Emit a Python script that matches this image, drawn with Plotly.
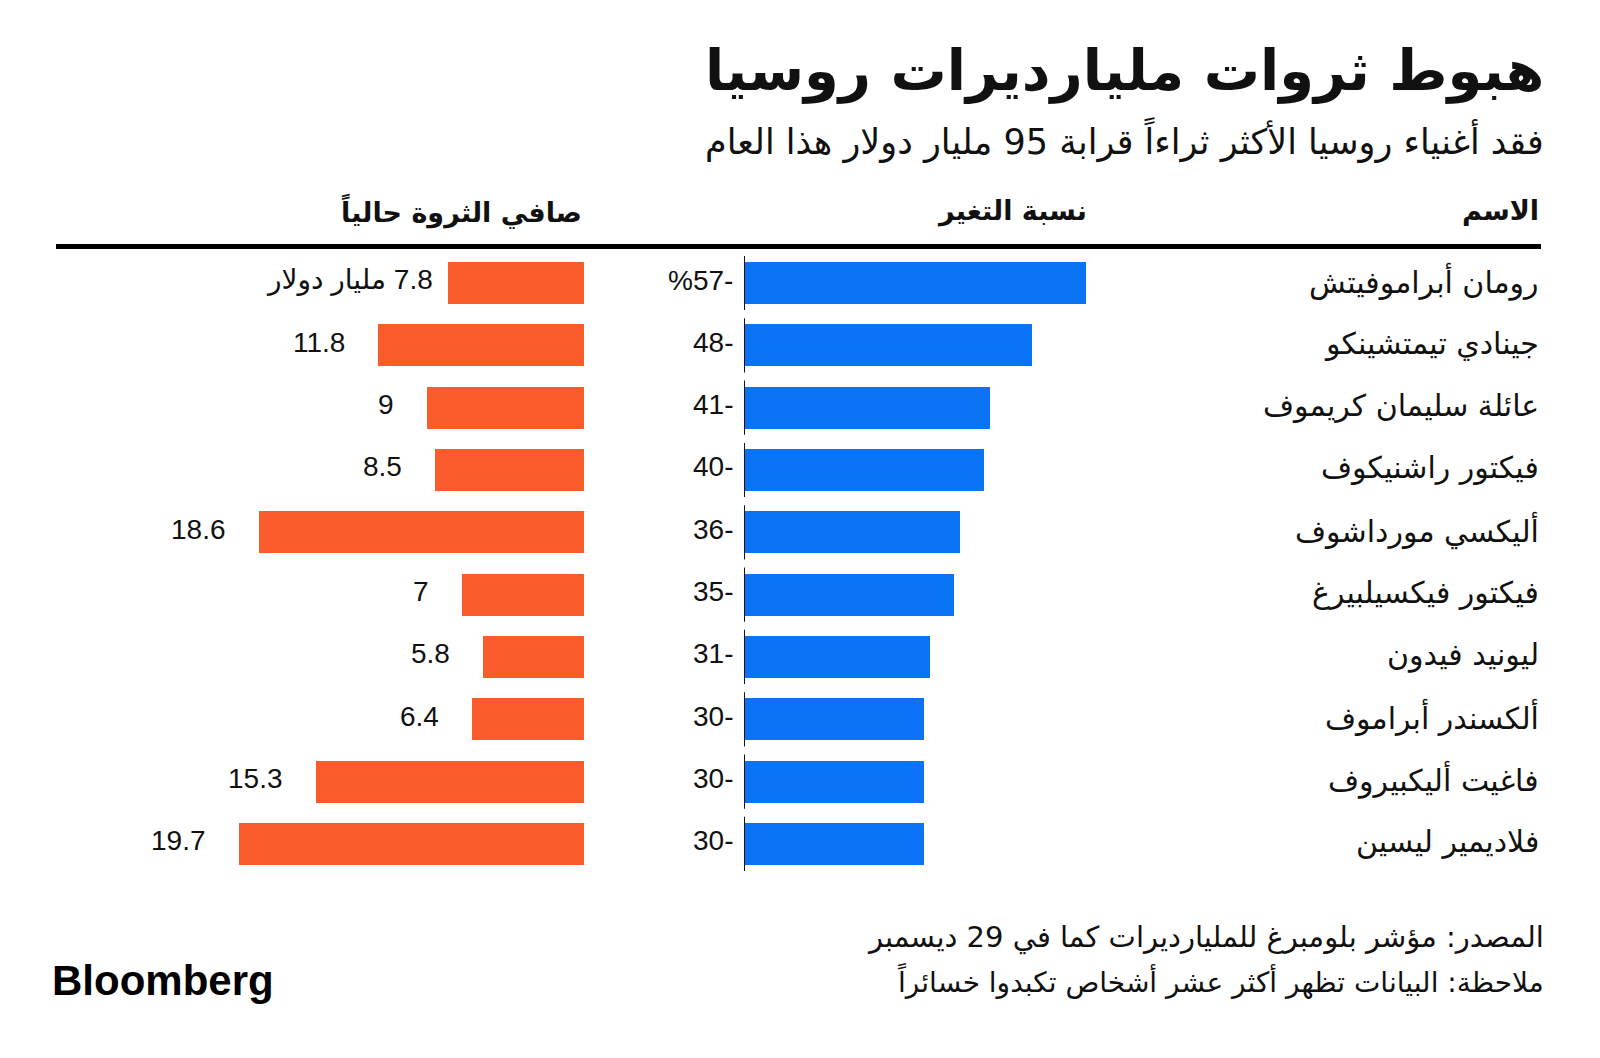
import plotly.graph_objects as go

names = ["رومان أبراموفيتش", "جينادي تيمتشينكو", "عائلة سليمان كريموف", "فيكتور راشنيكوف",
         "أليكسي مورداشوف", "فيكتور فيكسيلبيرغ", "ليونيد فيدون", "ألكسندر أبراموف",
         "فاغيت أليكبيروف", "فلاديمير ليسين"]
change_pct = [-57, -48, -41, -40, -36, -35, -31, -30, -30, -30]
change_labels = ["%57-", "48-", "41-", "40-", "36-", "35-", "31-", "30-", "30-", "30-"]
net_worth = [7.8, 11.8, 9, 8.5, 18.6, 7, 5.8, 6.4, 15.3, 19.7]
worth_labels = ["\u202B7.8 مليار دولار\u202C", "11.8", "9", "8.5", "18.6", "7", "5.8", "6.4", "15.3", "19.7"]

title = "هبوط ثروات مليارديرات روسيا"
subtitle = "فقد أغنياء روسيا الأكثر ثراءاً قرابة 95 مليار دولار هذا العام"
headers = ["الاسم", "نسبة التغير", "صافي الثروة حالياً"]
source = "المصدر: مؤشر بلومبرغ للمليارديرات كما في 29 ديسمبر"
note = "ملاحظة: البيانات تظهر أكثر عشر أشخاص تكبدوا خسائراً"

OFF = 8  # page body margin
W, H = 1600 - 2 * OFF, 1058 - 2 * OFF
ORANGE = "#FA5B2B"
BLUE = "#0A74F5"
AR = "DejaVu Sans"
NUM = "Liberation Sans, DejaVu Sans, sans-serif"

def px(x):
    return (x - OFF) / W

def py(y):
    return 1 - (y - OFF) / H

row_px = 62.33
top_px = 283 - OFF
b = -top_px / row_px
a = b + H / row_px

left_scale = 17.5
right_scale = 6.0
left_zero = 584 - OFF
right_zero = 744 - OFF

fig = go.Figure()
fig.add_trace(go.Bar(y=list(range(len(names))), x=net_worth, orientation="h",
                     marker=dict(color=ORANGE, line=dict(width=0)), width=0.674,
                     xaxis="x", yaxis="y", hoverinfo="skip"))
fig.add_trace(go.Bar(y=list(range(len(names))), x=change_pct, orientation="h",
                     marker=dict(color=BLUE, line=dict(width=0)), width=0.674,
                     xaxis="x2", yaxis="y", hoverinfo="skip"))

fig.update_layout(
    width=W, height=H, margin=dict(l=0, r=0, t=0, b=0),
    paper_bgcolor="white", plot_bgcolor="white", showlegend=False, bargap=0,
    xaxis=dict(domain=[0, left_zero / W], range=[left_zero / left_scale, 0], visible=False, fixedrange=True),
    xaxis2=dict(domain=[right_zero / W, 1], range=[0, -(W - right_zero) / right_scale], visible=False,
                anchor="y", fixedrange=True),
    yaxis=dict(domain=[0, 1], range=[a, b], visible=False, fixedrange=True),
)

ann = []
for i, n in enumerate(names):
    ann.append(dict(x=px(1541), xref="paper", y=i, yref="y", text=n, showarrow=False,
                    xanchor="right", yanchor="middle", yshift=2,
                    font=dict(family=AR, size=30, color="#111")))
    ann.append(dict(x=0, xref="x2", y=i, yref="y", text=change_labels[i], showarrow=False,
                    xanchor="right", yanchor="middle", xshift=-9, yshift=3,
                    font=dict(family=NUM, size=28, color="#111")))
    ann.append(dict(x=net_worth[i], xref="x", y=i, yref="y", text=worth_labels[i], showarrow=False,
                    xanchor="right", yanchor="middle", xshift=-13 if i == 0 else -31, yshift=3,
                    font=dict(family=NUM, size=28, color="#111")))

ann.append(dict(x=px(1546), xref="paper", y=py(71), yref="paper", text="<b>" + title + "</b>",
                showarrow=False, xanchor="right", yanchor="middle",
                font=dict(family=AR, size=56, color="#111")))
ann.append(dict(x=px(1546), xref="paper", y=py(140), yref="paper", text=subtitle,
                showarrow=False, xanchor="right", yanchor="middle",
                font=dict(family=AR, size=35, color="#111")))
for h, xr in zip(headers, [1541, 1089, 584]):
    ann.append(dict(x=px(xr), xref="paper", y=py(211), yref="paper", text="<b>" + h + "</b>",
                    showarrow=False, xanchor="right", yanchor="middle",
                    font=dict(family=AR, size=27, color="#111")))
ann.append(dict(x=px(1546), xref="paper", y=py(937), yref="paper", text=source,
                showarrow=False, xanchor="right", yanchor="middle",
                font=dict(family=AR, size=29, color="#111")))
ann.append(dict(x=px(1546), xref="paper", y=py(980), yref="paper", text=note,
                showarrow=False, xanchor="right", yanchor="middle",
                font=dict(family=AR, size=28, color="#111")))
ann.append(dict(x=px(50), xref="paper", y=py(980), yref="paper", text="<b>Bloomberg</b>",
                showarrow=False, xanchor="left", yanchor="middle",
                font=dict(family="Liberation Sans, Arial", size=42, color="#000")))

shapes = [dict(type="line", xref="paper", yref="paper", x0=px(56), x1=px(1541),
               y0=py(246.5), y1=py(246.5), line=dict(color="#000", width=5))]
for i in range(len(names)):
    shapes.append(dict(type="line", xref="x2", yref="y", x0=0, x1=0, y0=i - 0.435, y1=i + 0.435,
                       line=dict(color="#111", width=2)))

fig.update_layout(annotations=ann, shapes=shapes)
fig.write_html("out.html", config={"displayModeBar": False})
